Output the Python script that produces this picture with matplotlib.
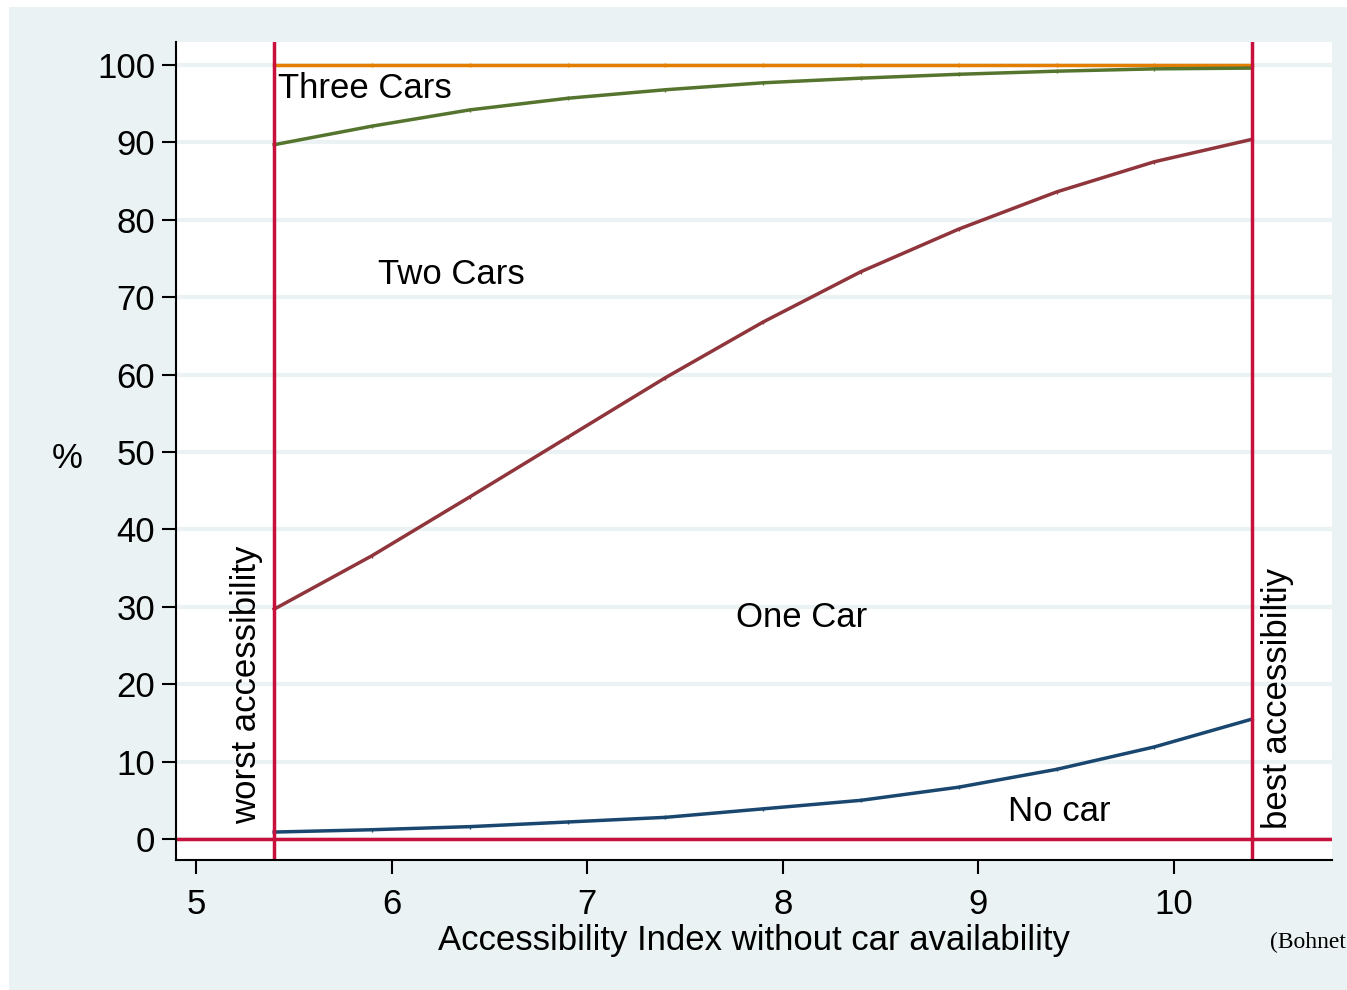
import numpy as np
import matplotlib.pyplot as plt
from matplotlib.patches import Rectangle

plt.rcParams['font.family'] = ['Liberation Sans', 'DejaVu Sans']

# accessibility index values
x = [5.4, 5.9, 6.4, 6.9, 7.4, 7.9, 8.4, 8.9, 9.4, 9.9, 10.4]
# cumulative shares in %
no_car = [0.9, 1.2, 1.6, 2.2, 2.8, 3.9, 5.0, 6.7, 9.0, 11.9, 15.5]
one_car = [29.7, 36.6, 44.2, 51.9, 59.6, 66.8, 73.3, 78.8, 83.6, 87.5, 90.4]
two_cars = [89.7, 92.1, 94.2, 95.7, 96.8, 97.7, 98.3, 98.8, 99.2, 99.5, 99.6]
three_cars = [100] * 11

xticks = [5, 6, 7, 8, 9, 10]
yticks = list(range(0, 101, 10))

bg = '#EAF2F3'
red = '#C8103C'
fs = 25

fig = plt.figure(figsize=(13.47, 9.90), dpi=100)
fig.patch.set_facecolor('white')
fig.patches.append(Rectangle((9 / 1347, 0), 1, 1 - 7 / 990, transform=fig.transFigure,
                             facecolor=bg, edgecolor='none', zorder=-10))

ax = fig.add_axes([176 / 1347, 1 - 860 / 990, (1332 - 176) / 1347, (860 - 42) / 990])
ax.set_facecolor('white')
ax.set_xlim(4.898, 10.808)
ax.set_ylim(-2.71, 102.97)

for v in yticks:
    ax.axhline(v, color=bg, lw=3, zorder=0)

ax.plot(x, three_cars, color='#E37E00', lw=2.5, marker='|', ms=3)
ax.plot(x, two_cars, color='#55752F', lw=2.5, marker='|', ms=3)
ax.plot(x, one_car, color='#90353B', lw=2.5, marker='|', ms=3)
ax.plot(x, no_car, color='#1A476F', lw=2.5, marker='|', ms=3)

ax.axvline(x[0], color=red, lw=2.5)
ax.axvline(x[-1], color=red, lw=2.5)
ax.axhline(0, color=red, lw=2.5)

ax.spines['top'].set_visible(False)
ax.spines['right'].set_visible(False)
ax.spines['left'].set_linewidth(1.5)
ax.spines['bottom'].set_linewidth(1.5)

ax.set_xticks(xticks)
ax.set_yticks(yticks)
ax.tick_params(direction='out', length=10, width=1.5, labelsize=fs)
ax.tick_params(axis='x', pad=10)
ax.tick_params(axis='y', pad=5)

ax.set_xlabel('Accessibility Index without car availability', fontsize=fs, labelpad=2)
fig.text(67 / 1347, 1 - 458 / 990, '%', fontsize=fs, ha='center', va='center')

ax.text(5.42, 96.9, 'Three Cars', fontsize=fs, va='center', ha='left')
ax.text(5.93, 72.9, 'Two Cars', fontsize=fs, va='center', ha='left')
ax.text(7.76, 28.6, 'One Car', fontsize=fs, va='center', ha='left')
ax.text(9.15, 3.5, 'No car', fontsize=fs, va='center', ha='left')
ax.text(5.26, 19.9, 'worst accessibility', fontsize=fs, rotation=90, ha='center', va='center')
ax.text(10.53, 18.1, 'best accessibiltiy', fontsize=fs, rotation=90, ha='center', va='center')

fig.text(1270 / 1347, 1 - 942 / 990, '(Bohnet', fontsize=17, family='Liberation Serif',
         ha='left', va='center')

fig.savefig('out.png', dpi=100)
